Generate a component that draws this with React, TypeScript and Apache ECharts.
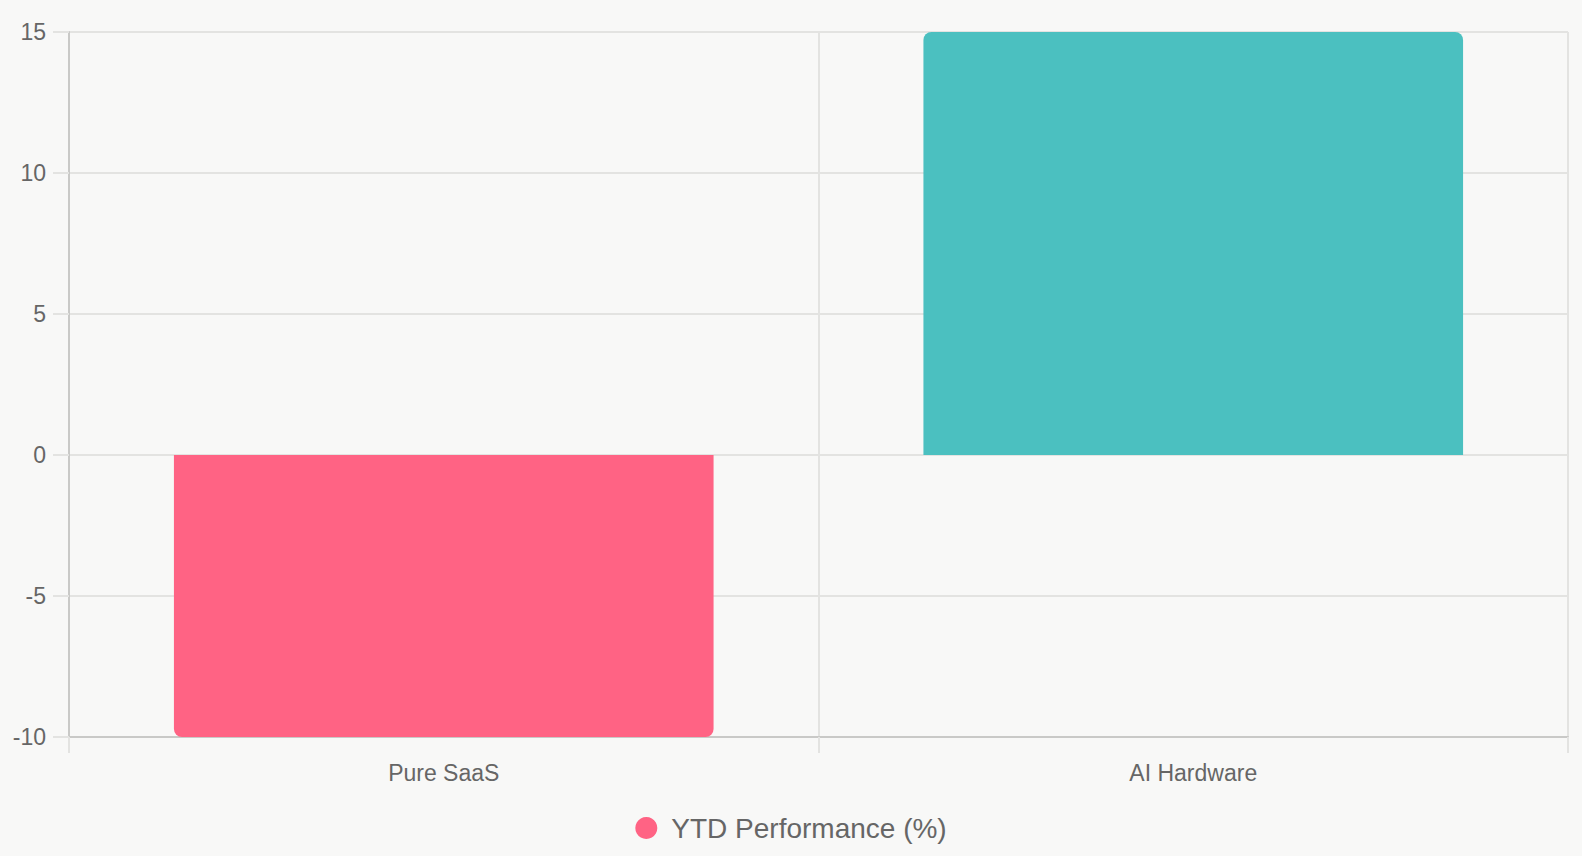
import { useEffect, useRef } from 'react';
import * as echarts from 'echarts';

// data
const categories = ['Pure SaaS', 'AI Hardware'];
const ytdPerformance = [-10, 15];
const seriesName = 'YTD Performance (%)';

const barColors = ['#FF6384', '#4BC0C0'];
const textColor = '#666666';
const gridColor = '#E3E3E1';
const axisColor = '#C9C9C7';
const fontFamily = '"Liberation Sans", Arial, Helvetica, sans-serif';

export default function App() {
  const chartRef = useRef<HTMLDivElement>(null);

  useEffect(() => {
    if (!chartRef.current) return;

    const chart = echarts.init(chartRef.current, undefined, { renderer: 'svg' });

    const option = {
      animation: false,
      backgroundColor: '#F8F8F7',
      textStyle: { fontFamily },
      grid: {
        left: 69,
        right: 14,
        top: 32,
        bottom: 119,
        containLabel: false
      },
      legend: {
        data: [seriesName],
        left: 'center',
        top: 809,
        icon: 'circle',
        itemWidth: 22,
        itemHeight: 22,
        textStyle: {
          color: textColor,
          fontSize: 28,
          fontFamily,
          padding: [0, 0, 0, 9]
        }
      },
      xAxis: {
        type: 'category',
        data: categories,
        axisLine: {
          onZero: false,
          lineStyle: { color: axisColor, width: 2 }
        },
        axisTick: {
          show: true,
          alignWithLabel: false,
          length: 16,
          lineStyle: { color: gridColor, width: 2 }
        },
        splitLine: {
          show: true,
          interval: 0,
          lineStyle: { color: gridColor, width: 2 }
        },
        axisLabel: {
          color: textColor,
          fontSize: 23,
          fontFamily,
          margin: 24
        }
      },
      yAxis: {
        type: 'value',
        min: -10,
        max: 15,
        interval: 5,
        axisLine: {
          show: true,
          onZero: false,
          lineStyle: { color: axisColor, width: 2 }
        },
        axisTick: {
          show: true,
          length: 16,
          lineStyle: { color: gridColor, width: 2 }
        },
        splitLine: {
          lineStyle: { color: gridColor, width: 2 }
        },
        axisLabel: {
          color: textColor,
          fontSize: 23,
          fontFamily,
          margin: 23
        }
      },
      series: [
        {
          name: seriesName,
          type: 'bar',
          barCategoryGap: '28%',
          itemStyle: { color: barColors[0] },
          data: ytdPerformance.map((value, index) => ({
            value,
            itemStyle: {
              color: barColors[index % barColors.length],
              borderRadius: value < 0 ? [0, 0, 8, 8] : [8, 8, 0, 0]
            }
          }))
        }
      ]
    };

    chart.setOption(option);

    const handleResize = () => chart.resize();
    window.addEventListener('resize', handleResize);

    return () => {
      window.removeEventListener('resize', handleResize);
      chart.dispose();
    };
  }, []);

  return (
    <div
      ref={chartRef}
      style={{ position: 'fixed', left: 0, top: 0, width: '1582px', height: '856px' }}
    />
  );
}
